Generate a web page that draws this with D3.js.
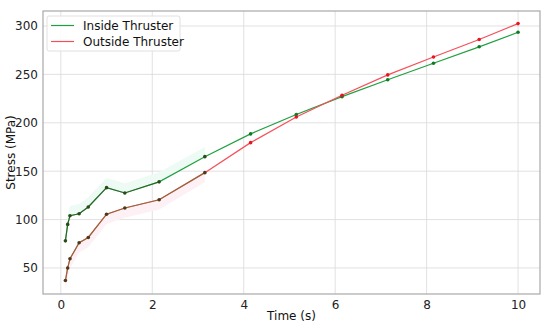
<!DOCTYPE html>
<meta charset="utf-8">
<style>
  body { margin: 0; background: #fff; }
  text { font-family: "DejaVu Sans", sans-serif; }
  .tick text { font-size: 12px; fill: #222; }
  .grid line { stroke: #d9d9d9; stroke-width: 0.8; }
  .label { font-size: 12px; fill: #111; }
  .legend text { font-size: 12px; fill: #111; }
</style>
<svg width="550" height="326"></svg>
<script src="https://d3js.org/d3.v7.min.js"></script>
<script>
// Data
var time = [0.1, 0.15, 0.2, 0.4, 0.6, 1.0, 1.4, 2.15, 3.15, 4.15, 5.15, 6.15, 7.15, 8.15, 9.15, 10];
var inside = [78, 95, 104, 106, 113, 133, 127.5, 139, 165, 188.5, 208.5, 227, 244.5, 261.5, 278.5, 293.5];
var outside = [37, 50, 59.5, 76, 81.5, 105.5, 112, 120.5, 148.5, 179.5, 206, 228.5, 249.5, 268, 286, 302.5];
var xTicks = [0, 2, 4, 6, 8, 10];
var yTicks = [50, 100, 150, 200, 250, 300];

var svg = d3.select("svg");
var margin = {left: 43, right: 10, top: 11, bottom: 32};
var width = 550 - margin.left - margin.right,
    height = 326 - margin.top - margin.bottom;

var x = d3.scaleLinear().domain([-0.39, 10.48]).range([0, width]);
var y = d3.scaleLinear().domain([23.1, 315.5]).range([height, 0]);

var g = svg.append("g").attr("transform", "translate(" + margin.left + "," + margin.top + ")");

// grid
g.append("g").attr("class", "grid")
  .selectAll("line.v").data(xTicks).enter().append("line")
  .attr("x1", d => x(d)).attr("x2", d => x(d)).attr("y1", 0).attr("y2", height);
g.append("g").attr("class", "grid")
  .selectAll("line.h").data(yTicks).enter().append("line")
  .attr("x1", 0).attr("x2", width).attr("y1", d => y(d)).attr("y2", d => y(d));

// axes
var xAxis = g.append("g").attr("transform", "translate(0," + height + ")")
  .call(d3.axisBottom(x).tickValues(xTicks).tickSize(0).tickPadding(6));
var yAxis = g.append("g")
  .call(d3.axisLeft(y).tickValues(yTicks).tickSize(0).tickPadding(5));
xAxis.select(".domain").remove();
yAxis.select(".domain").remove();

// frame
g.append("rect").attr("width", width).attr("height", height)
  .attr("fill", "none").attr("stroke", "#a8a8a8").attr("stroke-width", 1.2);

var inPts = time.map((t, i) => [t, inside[i]]);
var outPts = time.map((t, i) => [t, outside[i]]);
var line = d3.line().x(d => x(d[0])).y(d => y(d[1]));

// very faint shading near early points
var area = d3.area().x(d => x(d[0])).y0(d => y(d[1])).y1(d => y(d[1] + 10));
g.append("path").datum(inPts.slice(0, 9)).attr("d", area)
  .attr("fill", "#eefbf5");
var area2 = d3.area().x(d => x(d[0])).y0(d => y(d[1] - 10)).y1(d => y(d[1]));
g.append("path").datum(outPts.slice(0, 9)).attr("d", area2)
  .attr("fill", "#fdf1f5");

var green = "#20a040", red = "#f5505a";

g.append("path").datum(inPts).attr("d", line)
  .attr("fill", "none").attr("stroke", green).attr("stroke-width", 1.2);
g.append("path").datum(outPts).attr("d", line)
  .attr("fill", "none").attr("stroke", red).attr("stroke-width", 1.2);

// darker overlay on the early segments
g.append("path").datum(inPts.slice(0, 8)).attr("d", line)
  .attr("fill", "none").attr("stroke", "#2a3a10").attr("stroke-opacity", 0.55).attr("stroke-width", 1.2);
g.append("path").datum(outPts.slice(0, 9)).attr("d", line)
  .attr("fill", "none").attr("stroke", "#5a6a20").attr("stroke-opacity", 0.6).attr("stroke-width", 1.2);

// markers
g.selectAll("circle.in").data(inPts).enter().append("circle")
  .attr("cx", d => x(d[0])).attr("cy", d => y(d[1])).attr("r", 1.8)
  .attr("fill", (d, i) => i < 9 ? "#2a4a18" : "#0e7a24");
g.selectAll("circle.out").data(outPts).enter().append("circle")
  .attr("cx", d => x(d[0])).attr("cy", d => y(d[1])).attr("r", 1.8)
  .attr("fill", (d, i) => i < 9 ? "#4a3a18" : "#e8151f");

// labels
svg.append("text").attr("class", "label").attr("text-anchor", "middle")
  .attr("x", margin.left + width / 2).attr("y", 320).text("Time (s)");
svg.append("text").attr("class", "label").attr("text-anchor", "middle")
  .attr("transform", "translate(15," + (margin.top + height / 2) + ") rotate(-90)")
  .text("Stress (MPa)");

// legend
var lg = g.append("g").attr("class", "legend").attr("transform", "translate(4,5)");
lg.append("rect").attr("width", 133).attr("height", 35).attr("rx", 2)
  .attr("fill", "#fff").attr("fill-opacity", 0.85).attr("stroke", "#e0e0e0");
var entries = [["Inside Thruster", green], ["Outside Thruster", red]];
entries.forEach(function (e, i) {
  var yy = 9.5 + i * 16;
  lg.append("line").attr("x1", 4).attr("x2", 27).attr("y1", yy).attr("y2", yy)
    .attr("stroke", e[1]).attr("stroke-width", 1.2);
  lg.append("text").attr("x", 36).attr("y", yy + 4.5).text(e[0]);
});
</script>
